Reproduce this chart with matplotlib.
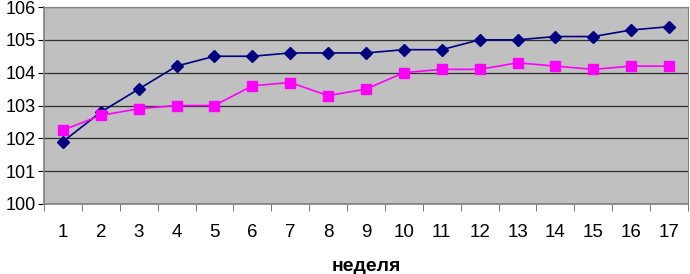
import matplotlib.pyplot as plt
import numpy as np

weeks = list(range(1, 18))
series_blue = [101.9, 102.8, 103.5, 104.2, 104.5, 104.5, 104.6, 104.6, 104.6,
               104.7, 104.7, 105.0, 105.0, 105.1, 105.1, 105.3, 105.4]
series_pink = [102.25, 102.7, 102.9, 103.0, 103.0, 103.6, 103.7, 103.3, 103.5,
               104.0, 104.1, 104.1, 104.3, 104.2, 104.1, 104.2, 104.2]
y_ticks = [100, 101, 102, 103, 104, 105, 106]

plt.rcParams['font.family'] = ['Liberation Sans', 'DejaVu Sans']

fig = plt.figure(figsize=(6.9, 2.74), dpi=100)
ax = fig.add_axes([44 / 690, 70 / 274, 644 / 690, 197 / 274])
ax.set_facecolor('#c0c0c0')

ax.plot(weeks, series_blue, color='#000080', marker='D', markersize=6,
        linewidth=1.2, zorder=3)
ax.plot(weeks, series_pink, color='#ff00ff', marker='s', markersize=6.5,
        linewidth=1.2, zorder=3)

ax.set_xlim(0.5, 17.5)
ax.set_ylim(100, 106)
ax.set_yticks(y_ticks)
ax.set_yticklabels([str(v) for v in y_ticks], fontsize=13)
ax.set_xticks(weeks)
ax.set_xticklabels([str(w) for w in weeks], fontsize=13.5)
ax.set_xticks(np.arange(0.5, 18, 1), minor=True)
ax.tick_params(axis='x', which='major', length=0, pad=14.5)
ax.tick_params(axis='x', which='minor', length=5, direction='out', color='#606060')
ax.tick_params(axis='y', length=4, direction='out', pad=2)

ax.yaxis.grid(True, color='#303030', linewidth=0.9)
ax.set_axisbelow(True)

for side in ['top', 'right']:
    ax.spines[side].set_color('#808080')
for side in ['left', 'bottom']:
    ax.spines[side].set_color('#808080')
    ax.spines[side].set_linewidth(1.2)

ax.set_xlabel('неделя', fontsize=14, fontweight='bold', labelpad=12)

plt.savefig('out.png', dpi=100)
